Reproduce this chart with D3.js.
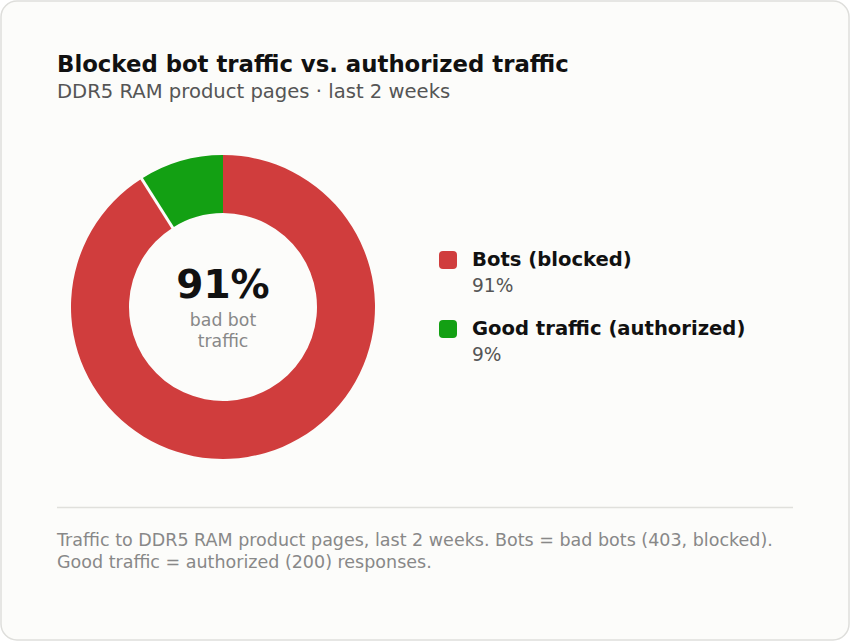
<!DOCTYPE html>
<html>
<head>
<meta charset="utf-8">
<script src="https://d3js.org/d3.v7.min.js"></script>
<style>
  html, body { margin: 0; padding: 0; background: #ffffff; }
  svg { display: block; font-family: "DejaVu Sans", sans-serif; }
</style>
</head>
<body>
<div id="chart"></div>
<script>
// data
var labels = ["Bots (blocked)", "Good traffic (authorized)"];
var values = [91, 9];
var colors = ["#d03d3d", "#13a013"];
var title = "Blocked bot traffic vs. authorized traffic";
var subtitle = "DDR5 RAM product pages \u00b7 last 2 weeks";
var centerValue = "91%";
var centerLabel = ["bad bot", "traffic"];
var footer = ["Traffic to DDR5 RAM product pages, last 2 weeks. Bots = bad bots (403, blocked).",
              "Good traffic = authorized (200) responses."];

var W = 850, H = 641;
var svg = d3.select("#chart").append("svg").attr("width", W).attr("height", H);

// card
svg.append("rect")
  .attr("x", 1).attr("y", 1).attr("width", W - 2).attr("height", H - 2)
  .attr("rx", 16).attr("fill", "#fcfcfa").attr("stroke", "#dededb").attr("stroke-width", 1.5);

svg.append("text").attr("x", 57).attr("y", 72)
  .attr("font-size", 22.8).attr("font-weight", "bold").attr("fill", "#111")
  .text(title);
svg.append("text").attr("x", 57).attr("y", 98)
  .attr("font-size", 19.6).attr("fill", "#555")
  .text(subtitle);

// donut
var cx = 223, cy = 307, rOut = 152, rIn = 94;
var pie = d3.pie().sort(null)(values);
var arc = d3.arc().innerRadius(rIn).outerRadius(rOut);
var g = svg.append("g").attr("transform", "translate(" + cx + "," + cy + ")");
g.selectAll("path.slice").data(pie).enter().append("path")
  .attr("class", "slice")
  .attr("d", arc)
  .attr("fill", (d, i) => colors[i]);

// separator at start of each slice after the first
g.selectAll("line.sep").data(pie.slice(1)).enter().append("line")
  .attr("x1", d => Math.sin(d.startAngle) * (rIn - 1))
  .attr("y1", d => -Math.cos(d.startAngle) * (rIn - 1))
  .attr("x2", d => Math.sin(d.startAngle) * (rOut + 1))
  .attr("y2", d => -Math.cos(d.startAngle) * (rOut + 1))
  .attr("stroke", "#fcfcfa").attr("stroke-width", 3);

g.append("text").attr("y", -9).attr("text-anchor", "middle")
  .attr("font-size", 39).attr("font-weight", "bold").attr("fill", "#111")
  .text(centerValue);
g.selectAll("text.cl").data(centerLabel).enter().append("text")
  .attr("class", "cl")
  .attr("y", (d, i) => 19 + i * 21)
  .attr("text-anchor", "middle")
  .attr("font-size", 17.3).attr("fill", "#888")
  .text(d => d);

// legend
var legend = svg.selectAll("g.leg").data(labels).enter().append("g")
  .attr("class", "leg")
  .attr("transform", (d, i) => "translate(439," + (251 + i * 69) + ")");
legend.append("rect").attr("width", 18).attr("height", 18).attr("rx", 4)
  .attr("fill", (d, i) => colors[i]);
legend.append("text").attr("x", 33).attr("y", 15)
  .attr("font-size", 19.6).attr("font-weight", "bold").attr("fill", "#111")
  .text(d => d);
legend.append("text").attr("x", 33).attr("y", 41)
  .attr("font-size", 18.6).attr("fill", "#555")
  .text((d, i) => values[i] + "%");

// divider + footer
svg.append("line").attr("x1", 57).attr("x2", 793).attr("y1", 507.5).attr("y2", 507.5)
  .attr("stroke", "#e0e0dc").attr("stroke-width", 1.5);
svg.selectAll("text.foot").data(footer).enter().append("text")
  .attr("class", "foot")
  .attr("x", 57).attr("y", (d, i) => 546 + i * 22)
  .attr("font-size", 17.5).attr("fill", "#888")
  .text(d => d);
</script>
</body>
</html>
